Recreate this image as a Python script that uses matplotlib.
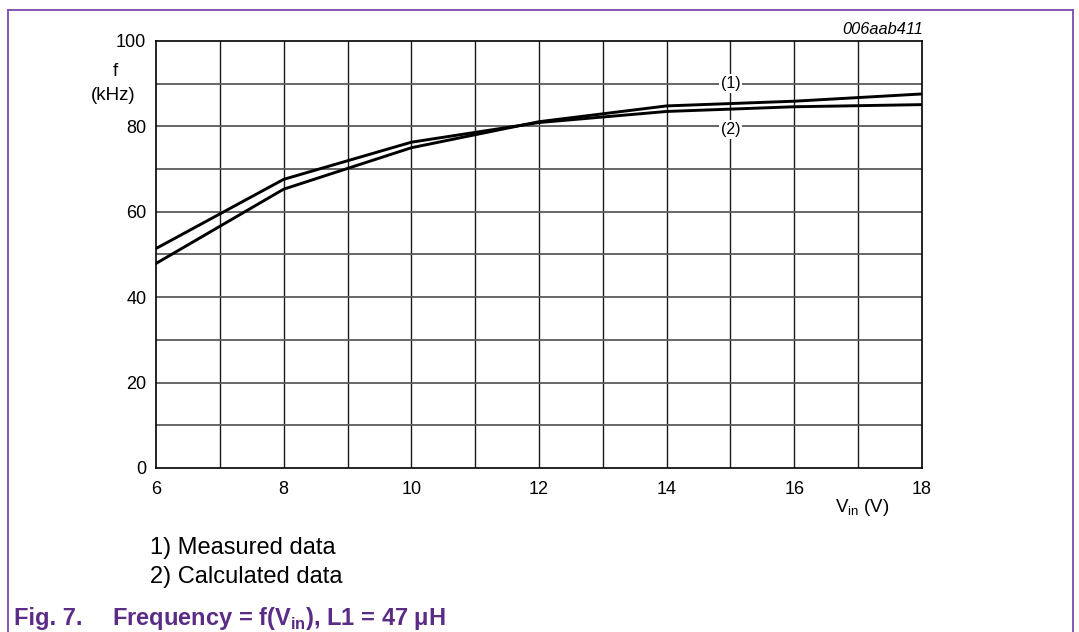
import matplotlib
matplotlib.use("Agg")
import matplotlib.pyplot as plt
from matplotlib.lines import Line2D

plt.rcParams['font.family'] = ['Liberation Sans', 'DejaVu Sans']
plt.rcParams['mathtext.fontset'] = 'custom'
plt.rcParams['mathtext.rm'] = 'Liberation Sans'
plt.rcParams['mathtext.bf'] = 'Liberation Sans:bold'

# Data
vin_measured = [6, 8, 10, 12, 14, 16, 18]
f_measured = [47.9, 65.3, 75.0, 81.1, 84.8, 85.9, 87.6]
vin_calc = [6, 8, 10, 12, 14, 16, 18]
f_calc = [51.4, 67.6, 76.3, 80.9, 83.5, 84.6, 85.1]
x_ticks = [6, 8, 10, 12, 14, 16, 18]
y_ticks = [0, 20, 40, 60, 80, 100]

purple_border = '#7B4BAE'
purple_text = '#5B2C86'

fig = plt.figure(figsize=(10.79, 6.32), dpi=100)
W, H = 1079, 632

# border (top, left, right)
fig.add_artist(Line2D([8 / W, 1073 / W], [1 - 10 / H, 1 - 10 / H], color=purple_border, lw=1.3))
fig.add_artist(Line2D([8 / W, 8 / W], [0, 1 - 10 / H], color=purple_border, lw=1.3))
fig.add_artist(Line2D([1073 / W, 1073 / W], [0, 1 - 10 / H], color=purple_border, lw=1.3))

ax = fig.add_axes([156 / W, 1 - 468 / H, (922 - 156) / W, (468 - 41) / H])
ax.set_xlim(6, 18)
ax.set_ylim(0, 100)

for v in range(7, 18):
    ax.axvline(v, color='#1a1a1a', lw=1.0, zorder=1)
for v in range(10, 100, 10):
    ax.axhline(v, color='#5a5a5a', lw=1.3, zorder=1)

ax.plot(vin_measured, f_measured, color='black', lw=2.1, zorder=3)
ax.plot(vin_calc, f_calc, color='black', lw=2.1, zorder=3)

ax.set_xticks(x_ticks)
ax.set_yticks(y_ticks)
ax.set_xticklabels([str(t) for t in x_ticks], fontsize=13)
ax.set_yticklabels([str(t) for t in y_ticks], fontsize=13)
ax.tick_params(length=0)
ax.tick_params(axis='x', pad=9)
ax.tick_params(axis='y', pad=7)
for s in ax.spines.values():
    s.set_color('black')
    s.set_linewidth(1.2)

# curve labels
ax.text(15, 90, '(1)', ha='center', va='center', fontsize=11.5,
        bbox=dict(facecolor='white', edgecolor='none', pad=1.5), zorder=4)
ax.text(15, 79.2, '(2)', ha='center', va='center', fontsize=11.5,
        bbox=dict(facecolor='white', edgecolor='none', pad=1.5), zorder=4)

# axis labels
fig.text(115 / W, 1 - 72 / H, 'f', ha='center', va='center', fontsize=13.5)
fig.text(113 / W, 1 - 96 / H, '(kHz)', ha='center', va='center', fontsize=13.5)
fig.text(862 / W, 1 - 507 / H, r'V$_{\mathrm{in}}$ (V)', ha='center', va='center', fontsize=13.5)
fig.text(923 / W, 1 - 30 / H, '006aab411', ha='right', va='center', fontsize=11.8, style='italic')

# notes
fig.text(150 / W, 1 - 548 / H, '1) Measured data', ha='left', va='center', fontsize=17)
fig.text(150 / W, 1 - 577 / H, '2) Calculated data', ha='left', va='center', fontsize=17)

# caption
fig.text(14 / W, 1 - 618 / H, 'Fig. 7.', ha='left', va='center', fontsize=17,
         fontweight='bold', color=purple_text)
fig.text(112 / W, 1 - 618 / H, r'Frequency = f(V$_{\mathbf{in}}$), L1 = 47 μH', ha='left',
         va='center', fontsize=17, fontweight='bold', color=purple_text)

fig.savefig('out.png', dpi=100)
